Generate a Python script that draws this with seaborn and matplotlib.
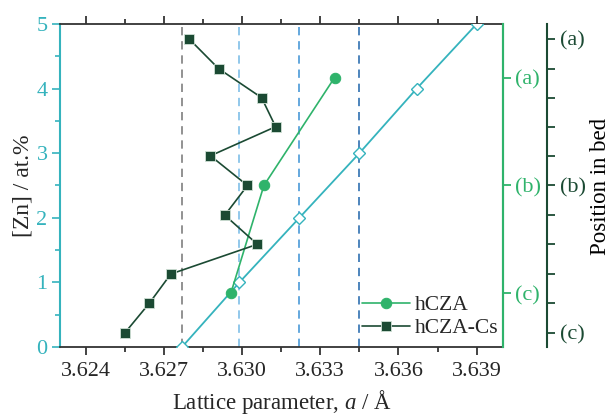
import numpy as np
import pandas as pd
import matplotlib
matplotlib.use("Agg")
import matplotlib.pyplot as plt
import seaborn as sns
from matplotlib.ticker import MultipleLocator, FixedLocator

sns.set_style("ticks")
plt.rcParams['font.family'] = ['Liberation Serif', 'DejaVu Serif']
plt.rcParams['mathtext.fontset'] = 'custom'
plt.rcParams['mathtext.it'] = 'Liberation Serif:italic'
plt.rcParams['mathtext.rm'] = 'Liberation Serif'

# Data
cs_lattice = [3.62551, 3.62645, 3.62727, 3.63059, 3.62934, 3.63021, 3.62879, 3.63129, 3.63075, 3.62910, 3.62797]
cs_zn = [0.22, 0.68, 1.13, 1.59, 2.04, 2.50, 2.96, 3.41, 3.86, 4.31, 4.77]
hcza_lattice = [3.62957, 3.63084, 3.63355]
hcza_zn = [0.83, 2.50, 4.17]
vegard_lattice = [3.6277, 3.6299, 3.6322, 3.6345, 3.6367, 3.6390]
vegard_zn = [0, 1, 2, 3, 4, 5]
ref_lines = [3.6277, 3.6299, 3.6322, 3.6345]
ref_colors = ['#7f7f7f', '#7fbfe8', '#4a9ad8', '#2f6fb0']
pos_labels = ['(a)', '(b)', '(c)']

teal = '#35b3bd'
green = '#2fb36b'
dkgreen = '#1b4a33'

fig = plt.figure(figsize=(6.12, 4.19), dpi=100)
ax = fig.add_axes([60/612, 1-347/419, (503-60)/612, (347-24)/419])

for xv, c in zip(ref_lines, ref_colors):
    ax.axvline(xv, color=c, ls=(0, (5, 3.5)), lw=1.2, zorder=1)

sns.lineplot(x=vegard_lattice, y=vegard_zn, ax=ax, sort=False, estimator=None,
             color=teal, lw=1.3, marker='D', markersize=6.5,
             markerfacecolor='white', markeredgecolor=teal, markeredgewidth=1.0,
             zorder=3, legend=False)
sns.lineplot(x=hcza_lattice, y=hcza_zn, ax=ax, sort=False, estimator=None,
             color=green, lw=1.2, marker='o', markersize=7.5,
             markeredgecolor=green, label='hCZA', zorder=4)
sns.lineplot(x=cs_lattice, y=cs_zn, ax=ax, sort=False, estimator=None,
             color=dkgreen, lw=1.2, marker='s', markersize=6.5,
             markeredgecolor='#cfe0d5', markeredgewidth=0.6, label='hCZA-Cs', zorder=5)

ax.set_xlim(3.62302, 3.64001)
ax.set_ylim(0, 5)
ax.xaxis.set_major_locator(FixedLocator([3.624, 3.627, 3.630, 3.633, 3.636, 3.639]))
ax.xaxis.set_minor_locator(FixedLocator([3.6255, 3.6285, 3.6315, 3.6345, 3.6375]))
ax.set_xticklabels(['3.624', '3.627', '3.630', '3.633', '3.636', '3.639'])
ax.yaxis.set_major_locator(MultipleLocator(1))
ax.yaxis.set_minor_locator(MultipleLocator(0.5))
ax.tick_params(axis='x', which='both', top=True, labeltop=False, direction='out',
               labelsize=16, color='#222222', pad=5)
ax.tick_params(axis='x', which='major', length=6, width=1.2)
ax.tick_params(axis='x', which='minor', length=3.5, width=1.2)
ax.tick_params(axis='y', which='both', direction='out', colors=teal, labelsize=16, width=1.2, pad=3)
ax.tick_params(axis='y', which='major', length=6)
ax.tick_params(axis='y', which='minor', length=3.5)
for s in ['top', 'bottom']:
    ax.spines[s].set_color('#333333')
    ax.spines[s].set_linewidth(1.3)
ax.spines['left'].set_color(teal)
ax.spines['left'].set_linewidth(1.5)
ax.spines['right'].set_color(green)
ax.spines['right'].set_linewidth(1.5)

ax.set_xlabel(r'Lattice parameter, $a$ / Å', fontsize=16.5, labelpad=5)
ax.set_ylabel('[Zn] / at.%', fontsize=17, labelpad=2)

leg = ax.legend(loc='lower right', frameon=False, fontsize=15.5, handlelength=2.2,
                handletextpad=0.25, borderaxespad=0.0, labelspacing=0.15,
                bbox_to_anchor=(1.01, 0.0))

# first right axis (hCZA positions)
ax2 = ax.twinx()
ax2.set_ylim(0, 5)
ax2.yaxis.set_major_locator(FixedLocator(hcza_zn[::-1]))
ax2.set_yticklabels(pos_labels)
ax2.tick_params(axis='y', direction='out', colors=green, length=6, width=1.3, labelsize=16, pad=3)
for s in ['top', 'bottom', 'left']:
    ax2.spines[s].set_visible(False)
ax2.spines['right'].set_color(green)
ax2.spines['right'].set_linewidth(1.5)

# second right axis (hCZA-Cs positions)
ax3 = ax.twinx()
ax3.set_ylim(0, 5)
ax3.spines['right'].set_position(('outward', 31.7))
ax3.yaxis.set_major_locator(FixedLocator(cs_zn))
labels3 = [''] * len(cs_zn)
labels3[0] = '(c)'
labels3[5] = '(b)'
labels3[-1] = '(a)'
ax3.set_yticklabels(labels3)
ax3.tick_params(axis='y', direction='out', colors=dkgreen, length=6, width=1.3, labelsize=16, pad=3)
for s in ['top', 'bottom', 'left']:
    ax3.spines[s].set_visible(False)
ax3.spines['right'].set_color(dkgreen)
ax3.spines['right'].set_linewidth(1.5)

fig.text(601/612, 1-186/419, 'Position in bed', fontsize=16.5, color='black',
         rotation=90, ha='center', va='center')

fig.savefig('out.png', dpi=100)
